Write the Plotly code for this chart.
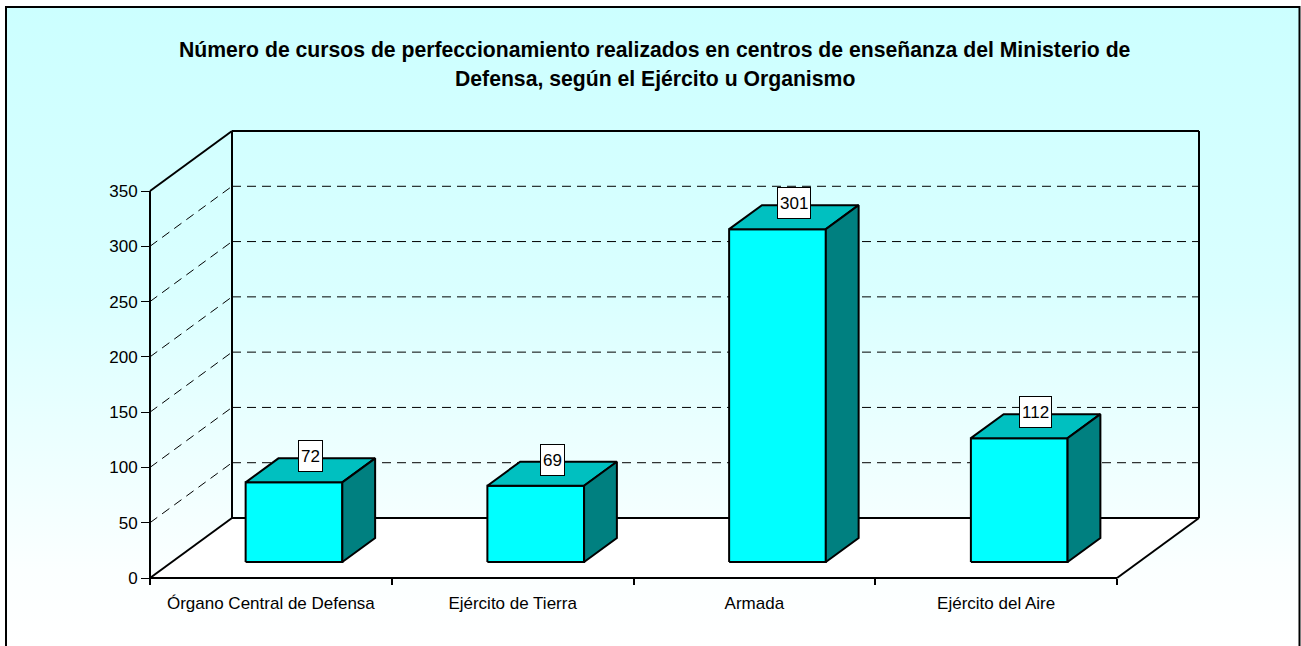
import plotly.graph_objects as go

# ---------------- data ----------------
categories = ["Órgano Central de Defensa", "Ejército de Tierra", "Armada", "Ejército del Aire"]
values = [72, 69, 301, 112]
y_ticks = [0, 50, 100, 150, 200, 250, 300, 350]
title_lines = [
    "Número de cursos de perfeccionamiento realizados en centros de enseñanza del Ministerio de",
    "Defensa, según el Ejército u Organismo",
]

# ---------------- geometry (layout / styling) ----------------
W, H = 1301, 646
X0_PX, Y0_PX = 150, 578          # pixel of front-left-bottom corner
CAT_PX = 241.75                   # pixels per category
VAL_PX = 387 / 350                # pixels per value unit
DEPTH_X_PX, DEPTH_Y_PX = 82, 60   # 3D depth offset of the back wall
DX = DEPTH_X_PX / CAT_PX
DY = DEPTH_Y_PX / VAL_PX
YMAX = y_ticks[-1]
N = len(categories)
BAR_OFF, BAR_W = 0.305, 0.40
D_FRONT, D_BACK = 0.267, 0.667
FONT = "Liberation Sans, Arial, sans-serif"

x_range = [-X0_PX / CAT_PX, (W - X0_PX) / CAT_PX]
y_range = [-(H - Y0_PX) / VAL_PX, Y0_PX / VAL_PX]


def P(x, v, d):
    return x + d * DX, v + d * DY


def px2data(px, py):
    return (px - X0_PX) / CAT_PX, (Y0_PX - py) / VAL_PX


def poly(pts, fill, line_w=2, **kw):
    xs = [p[0] for p in pts] + [pts[0][0]]
    ys = [p[1] for p in pts] + [pts[0][1]]
    return go.Scatter(x=xs, y=ys, mode="lines", fill="toself", fillcolor=fill,
                      line=dict(color="black", width=line_w), hoverinfo="skip", **kw)


def segs(pairs, **line):
    xs, ys = [], []
    for a, b in pairs:
        xs += [a[0], b[0], None]
        ys += [a[1], b[1], None]
    return go.Scatter(x=xs, y=ys, mode="lines", line=line, hoverinfo="skip")


fig = go.Figure()

# chart-area background with vertical gradient
bx0, by0 = px2data(6, 7)
bx1, by1 = px2data(1299.5, 700)
_, ytop = px2data(0, 7)
_, ybot = px2data(0, 646)
fig.add_trace(go.Scatter(
    x=[bx0, bx1, bx1, bx0, bx0], y=[by0, by0, by1, by1, by0], mode="lines",
    fill="toself", line=dict(width=0),
    fillgradient=dict(type="vertical", start=ybot, stop=ytop,
                      colorscale=[[0, "#FFFFFF"], [0.12, "#FBFFFF"], [0.55, "#DAFFFF"], [1, "#CCFFFF"]]),
    hoverinfo="skip"))

# floor
fig.add_trace(poly([P(0, 0, 0), P(N, 0, 0), P(N, 0, 1), P(0, 0, 1)], "#FFFFFF", line_w=0))

# dashed gridlines
grid_pairs = []
for v in y_ticks[1:-1]:
    grid_pairs.append((P(0, v, 0), P(0, v, 1)))
    grid_pairs.append((P(0, v, 1), P(N, v, 1)))
fig.add_trace(segs(grid_pairs, color="black", width=1, dash="9px,6px"))

# walls / floor edges
edges = [
    (P(0, 0, 0), P(0, YMAX, 0)),
    (P(0, YMAX, 0), P(0, YMAX, 1)),
    (P(0, 0, 1), P(0, YMAX, 1)),
    (P(0, YMAX, 1), P(N, YMAX, 1)),
    (P(N, YMAX, 1), P(N, 0, 1)),
    (P(0, 0, 1), P(N, 0, 1)),
    (P(0, 0, 0), P(0, 0, 1)),
    (P(0, 0, 0), P(N, 0, 0)),
    (P(N, 0, 0), P(N, 0, 1)),
]
fig.add_trace(segs(edges, color="black", width=2))

# 3D bars
for i, v in enumerate(values):
    xl = i + BAR_OFF
    xr = xl + BAR_W
    fig.add_trace(poly([P(xl, 0, D_FRONT), P(xr, 0, D_FRONT), P(xr, v, D_FRONT), P(xl, v, D_FRONT)], "#00FFFF"))
    fig.add_trace(poly([P(xl, v, D_FRONT), P(xr, v, D_FRONT), P(xr, v, D_BACK), P(xl, v, D_BACK)], "#00C0C0"))
    fig.add_trace(poly([P(xr, 0, D_FRONT), P(xr, 0, D_BACK), P(xr, v, D_BACK), P(xr, v, D_FRONT)], "#008080"))
    dm = (D_FRONT + D_BACK) / 2
    lx, ly = P(xl + BAR_W / 2, v, dm)
    fig.add_annotation(x=lx, y=ly, yshift=14, text=str(v), showarrow=False, height=26,
                       bgcolor="white", bordercolor="black", borderwidth=1, borderpad=2,
                       font=dict(family=FONT, size=17, color="black"))

# title
for k, (line, ypx) in enumerate(zip(title_lines, [50, 79])):
    fig.add_annotation(x=655 / W, y=1 - ypx / H, xref="paper", yref="paper",
                       xanchor="center", yanchor="middle", showarrow=False,
                       text="<b>" + line + "</b>",
                       font=dict(family=FONT, size=21.2, color="black"))

# outer border
fig.add_shape(type="rect", xref="paper", yref="paper",
              x0=6 / W, x1=1299.5 / W, y0=-0.2, y1=1 - 7 / H,
              line=dict(color="black", width=2), fillcolor="rgba(0,0,0,0)")

axis_pos_y = (H - Y0_PX) / H
fig.update_layout(
    width=W, height=H, margin=dict(l=0, r=0, t=0, b=0),
    paper_bgcolor="white", plot_bgcolor="rgba(0,0,0,0)", showlegend=False,
    xaxis=dict(range=x_range, domain=[0, 1], anchor="free", position=axis_pos_y,
               tickvals=list(range(N + 1)), ticktext=[""] * (N + 1),
               ticks="outside", ticklen=6, tickwidth=2, tickcolor="black",
               showgrid=False, zeroline=False, showline=False, automargin=False),
    xaxis2=dict(range=x_range, domain=[0, 1], overlaying="x", anchor="free", position=axis_pos_y,
                side="bottom", tickvals=[i + 0.5 for i in range(N)], ticktext=categories,
                ticks="", showgrid=False, zeroline=False, showline=False, automargin=False,
                ticklabelstandoff=13,
                tickfont=dict(family=FONT, size=17, color="black")),
    yaxis=dict(range=y_range, domain=[0, 1], anchor="free", position=X0_PX / W,
               tickvals=y_ticks, ticks="outside", ticklen=9, tickwidth=1, tickcolor="black",
               showgrid=False, zeroline=False, showline=False, automargin=False,
               tickfont=dict(family=FONT, size=17, color="black")),
)
# invisible trace to activate xaxis2
fig.add_trace(go.Scatter(x=[0.5], y=[0], xaxis="x2", mode="markers", marker=dict(opacity=0),
                         hoverinfo="skip"))

fig.write_html("out.html", config={"displayModeBar": False},
               post_script="document.body.style.margin='0';")
